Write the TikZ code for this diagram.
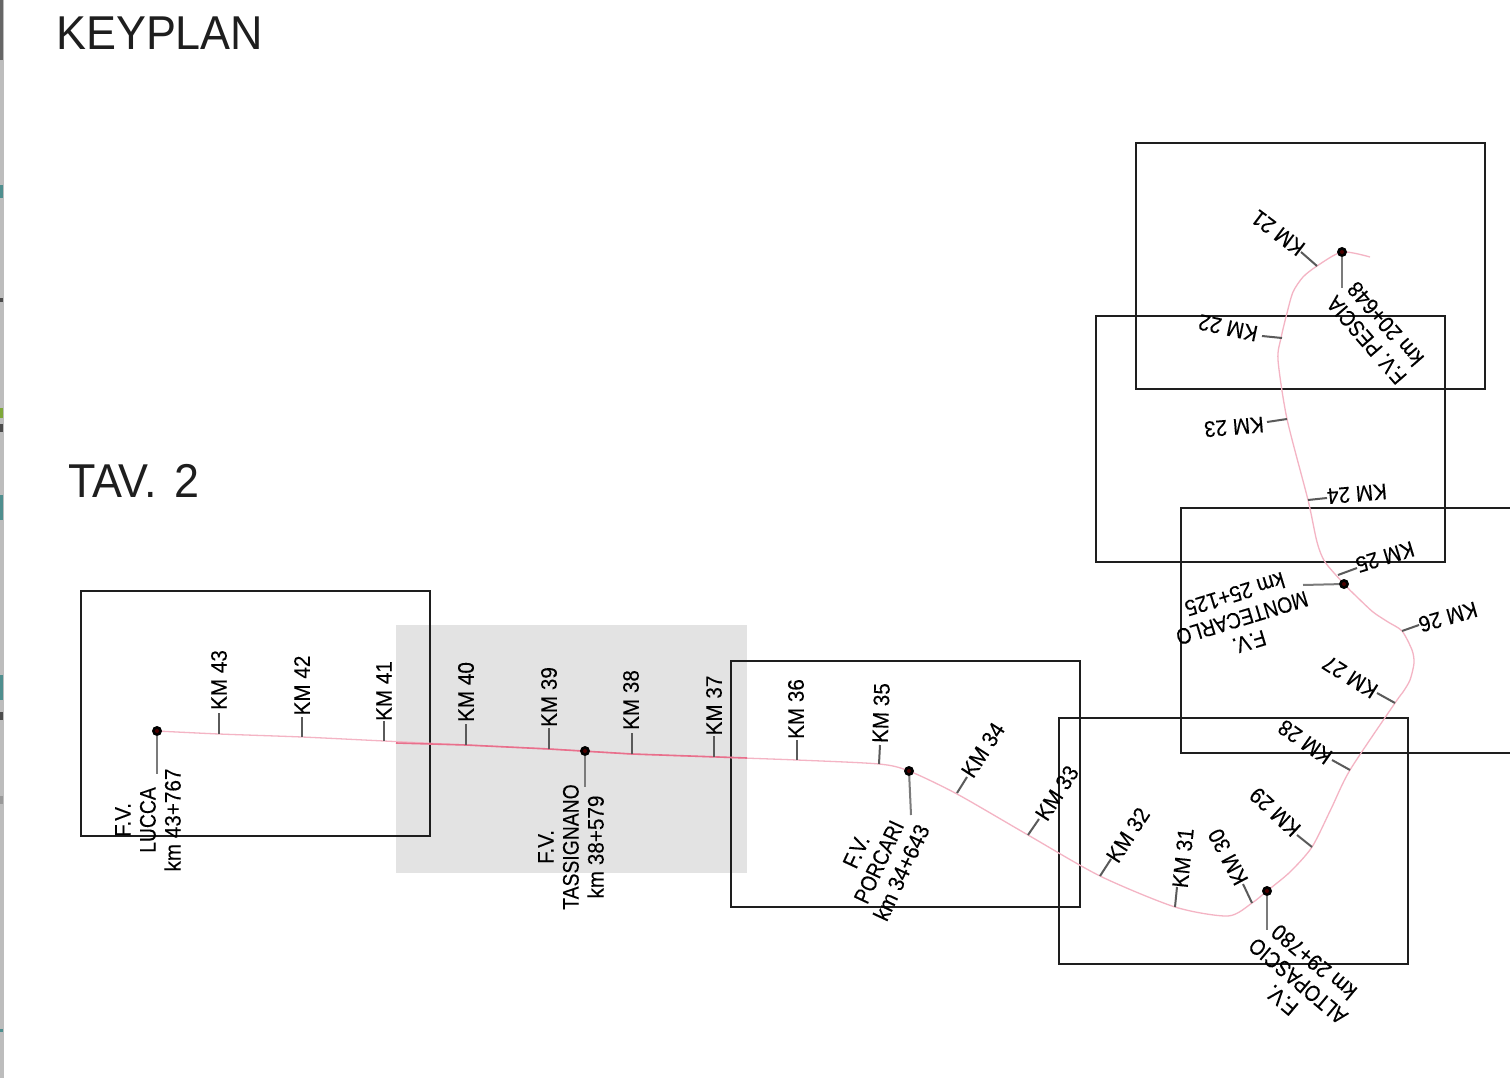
\documentclass[tikz,border=0pt]{standalone}
\usepackage{fontspec}
\setmainfont{Liberation Sans}
\newfontfamily\labfont[FakeStretch=0.92,FakeBold=0.15]{Liberation Sans}
\newfontfamily\capsfont[FakeStretch=0.86,FakeBold=0.15]{Liberation Sans}
\newfontfamily\headfont[FakeStretch=0.945]{Liberation Sans}
\newcommand{\cp}[1]{{\capsfont #1}}
\definecolor{trackpink}{HTML}{F4B4C4}
\definecolor{trackdark}{HTML}{E8708C}
\definecolor{tickgrey}{HTML}{5A5A5A}
\definecolor{framegrey}{HTML}{1E1E1E}
\definecolor{sheetgrey}{HTML}{E3E3E3}
\definecolor{stripgrey}{HTML}{BDBDBD}
\definecolor{stripteal}{HTML}{4F8F8F}
\definecolor{stripgreen}{HTML}{7FA83A}
\tikzset{
  frame/.style={draw=framegrey,line width=2.2pt},
  track/.style={draw=trackpink,line width=1.3pt,line join=round},
  trackbold/.style={draw=trackdark,line width=1.6pt},
  tickline/.style={draw=tickgrey,line width=2pt},
  kmlabel/.style={font=\labfont\fontsize{22.5}{25}\selectfont,text=black,inner sep=0pt,align=center},
  heading/.style={font=\headfont\fontsize{47.5}{50}\selectfont,text=framegrey,inner sep=0pt,anchor=base west},
  station/.style={circle,fill=black,inner sep=0pt,minimum size=10pt},
  stationcore/.style={circle,fill=red!30!black,inner sep=0pt,minimum size=4pt},
}
% \kmtick{id}{on track}{tick end}{label centre}{rotation}{text}
\newcommand{\kmtick}[6]{%
  \coordinate (on#1) at (#2);
  \coordinate (end#1) at (#3);
  \draw[tickline] (on#1) -- (end#1);
  \node[kmlabel,rotate=#5] (lab#1) at (#4) {#6};
}
% \stn{id}{dot}{line end}{label centre}{rotation}{text}
\newcommand{\stn}[6]{%
  \node[station] (dot#1) at (#2) {};
  \coordinate (end#1) at (#3);
  \draw[tickline,draw=tickgrey!80,line width=2pt] (dot#1) -- (end#1);
  \node[stationcore] at (dot#1) {};
  \node[kmlabel,rotate=#5] (lab#1) at (#4) {#6};
}
\begin{document}
\begin{tikzpicture}[x=1pt,y=-1pt]
\useasboundingbox (0,0) rectangle (1510,1078);
\fill[white] (0,0) rectangle (1510,1078);
% scan strip on the left edge
\fill[stripgrey] (0,0) rectangle (4,1078);
\fill[black!60] (0,0) rectangle (3,60);
\fill[black!70] (0,298) rectangle (3,302);
\fill[stripgreen] (0,408) rectangle (3,418);
\fill[black!70] (0,424) rectangle (3,432);
\fill[black!70] (0,712) rectangle (3,720);
\fill[black!40] (0,796) rectangle (3,804);
\fill[stripteal] (0,185) rectangle (3,198);
\fill[stripteal] (0,495) rectangle (3,520);
\fill[stripteal] (0,675) rectangle (3,700);
\fill[stripteal] (0,1029) rectangle (3,1032);
% shaded sheet
\fill[sheetgrey] (396,625) rectangle (747,873);
% sheet frames
\draw[frame] (81,591) rectangle (430,836);
\draw[frame] (731,661) rectangle (1080,907);
\draw[frame] (1059,718) rectangle (1408,964);
\draw[frame] (1510,508) -- (1181,508) -- (1181,753) -- (1510,753);
\draw[frame] (1096,316) rectangle (1445,562);
\draw[frame] (1136,143) rectangle (1485,389);
% track
\draw[track] plot[smooth,tension=0.45] coordinates {
 (157,731) (219,734) (302,737) (384,741) (466,745) (549,749) (632,754) (714,757) (797,760) (879,764)
 (909,771) (957,794) (1028,835) (1100,876) (1175,907) (1228,916) (1252,903) (1267,891) (1290,872) (1312,847)
 (1331,809) (1350,770) (1395,703) (1403,692) (1410,680) (1414,663) (1412,650) (1402,631) (1388,622) (1373,612)
 (1357,597) (1345,585) (1325,562) (1317,542) (1308,500) (1287,419)
 (1278,360) (1281,338) (1287,313) (1293,292) (1303,277) (1317,266) (1342,252) (1370,257)};
\draw[trackbold] (396,743) -- (466,745) -- (549,749) -- (632,754) -- (747,758);
% kilometre ticks
\kmtick{43}{219,734}{219,713}{219,680}{90}{KM 43}
\kmtick{42}{302,737}{302,717}{302,685.5}{90}{KM 42}
\kmtick{41}{384,741}{384,721}{384,691}{90}{KM 41}
\kmtick{40}{466,745}{466,724}{466,692}{90}{KM 40}
\kmtick{39}{549,749}{549,728}{549,697}{90}{KM 39}
\kmtick{38}{632,754}{632,733}{631,700}{90}{KM 38}
\kmtick{37}{714,757}{714,736}{714,705.5}{90}{KM 37}
\kmtick{36}{797,760}{797,740}{796,709}{90}{KM 36}
\kmtick{35}{879,764}{880,745}{881,713}{88}{KM 35}
\kmtick{34}{957,793}{967,777}{983,750}{57}{KM 34}
\kmtick{33}{1028,835}{1039,819}{1057,793}{57}{KM 33}
\kmtick{32}{1100,876}{1111,859}{1128,835}{57}{KM 32}
\kmtick{31}{1175,907}{1177,887}{1183,858}{84}{KM 31}
\kmtick{30}{1252,903}{1243,884}{1228,857}{118}{KM 30}
\kmtick{29}{1312,847}{1297,835}{1275,812}{137}{KM 29}
\kmtick{28}{1350,770}{1332,760}{1305,742}{145}{KM 28}
\kmtick{27}{1395,703}{1377,693}{1350,677}{148}{KM 27}
\kmtick{26}{1402,631}{1419,625}{1448,617}{196}{KM 26}
\kmtick{25}{1338,575}{1357,568}{1385,557}{197}{KM 25}
\kmtick{24}{1308,500}{1327,498}{1357,494}{185}{KM 24}
\kmtick{23}{1287,419}{1267,422}{1234,427}{185}{KM 23}
\kmtick{22}{1282,338}{1262,336}{1228,328}{168}{KM 22}
\kmtick{21}{1317,266}{1301,252}{1278,233}{143}{KM 21}
% stations
\stn{lu}{157,731}{157,774}{148,820}{90}{F.V.\\\cp{LUCCA}\\km 43+767}
\stn{ta}{585,751}{585,787}{571,847}{90}{F.V.\\\cp{TASSIGNANO}\\km 38+579}
\stn{po}{909,771}{911,815}{879,862}{65}{F.V.\\\cp{PORCARI}\\km 34+643}
\stn{al}{1267,891}{1267,930}{1298,981}{140}{F.V.\\\cp{ALTOPASCIO}\\km 29+780}
\stn{mo}{1344,584}{1303,585}{1242,618}{197}{F.V.\\\cp{MONTECARLO}\\km 25+125}
\stn{pe}{1342,252}{1342,288}{1376,332}{131}{\cp{F.V. PESCIA}\\km 20+648}
% headings
\node[heading] (keyplan) at (56,50) {KEYPLAN};
\node[heading] (tav) at (68,497) {TAV.\hspace{5pt} 2};
\end{tikzpicture}
\end{document}
